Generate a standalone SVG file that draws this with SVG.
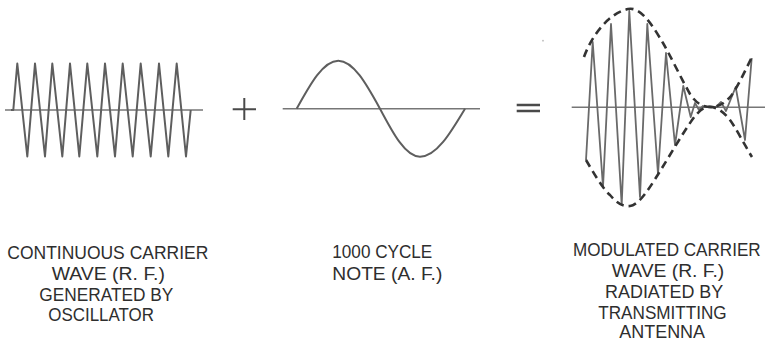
<svg xmlns="http://www.w3.org/2000/svg" width="771" height="342" viewBox="0 0 771 342">
<style>
.axis{fill:none;stroke:#767676;stroke-width:1.6}
.wave{fill:none;stroke:#5e5e5e;stroke-width:2;stroke-linejoin:round}
.mwave{fill:none;stroke:#6a6a6a;stroke-width:1.8;stroke-linejoin:round}
.sym{fill:none;stroke:#4a4a4a;stroke-width:2}
.env{fill:none;stroke:#333;stroke-width:2.6;stroke-dasharray:8 5}
.lbl{font-family:"Liberation Sans",Arial,sans-serif;font-size:18.5px;fill:#2e2e2e}
</style>
<rect width="771" height="342" fill="#fff"/>
<g id="carrier">
<path class="axis" d="M5,110 H203"/>
<path class="wave" d="M11,110 L13.3,110 L17.3,63.5 L27.3,156.5 L35,63.5 L45,156.5 L52.3,63.5 L62.3,156.5 L70,63.5 L79.3,156.5 L87.3,63.5 L97.3,156.5 L105,63.5 L115,156.5 L122.7,63.5 L132.7,156.5 L140.7,63.5 L150.7,156.5 L159,63.5 L168.3,156.5 L176.7,63.5 L186,156.5 L190.7,110"/>
</g>
<g id="plus">
<path class="sym" d="M232.7,109.3 H256 M244.3,98 V120"/>
</g>
<g id="note">
<path class="axis" d="M282.7,108.7 H480"/>
<path class="wave" d="M296.7,108.7 C310.3,84.1 323.2,60.7 338.3,60.7 C353.4,60.7 366.4,84.1 380,108.7 C393,133.3 405.5,156.7 420,156.7 C436.3,156.7 450.3,133.3 465,108.7"/>
</g>
<g id="equals">
<path class="sym" style="stroke-width:2.4" d="M516.7,105 H540 M516.7,111 H540"/>
</g>
<circle cx="543" cy="40.7" r="0.9" fill="#bbb"/>
<g id="modulated">
<path class="axis" d="M571.7,107.3 H765"/>
<path class="mwave" d="M586,160 L592.7,42 L603,187 L611,24 L621.7,205 L629.3,11 L640,197 L647.3,24 L658,174 L666,53 L675,145 L683.3,86 L690.7,117 L695,103 L699,110 L703,106 L707,107 L716,107 L721,102 L726,111 L735.7,87 L745,140 L751.7,58"/>
<path class="env" d="M584,57 C590,40 606,14 628,9 C642,6 655,30 663,43 C670,55 682,80 690,94 C696,103 702,107 711,107 C719,107 726,102 731,96 C737,88 745,71 752,57"/>
<path class="env" d="M586,160 C592,170 602,188 610,195 C616,202 622,207 630,206 C640,205 652,184 662,168 C670,155 680,138 688,126 C694,117 700,108 708,107 C716,106 724,112 730,120 C736,128 744,144 752,157"/>
</g>
<g id="labels">
<text class="lbl" x="7.3" y="259" textLength="201" lengthAdjust="spacingAndGlyphs">CONTINUOUS CARRIER</text>
<text class="lbl" x="51.7" y="280" textLength="113.3" lengthAdjust="spacingAndGlyphs">WAVE (R. F.)</text>
<text class="lbl" x="39.3" y="300.5" textLength="134" lengthAdjust="spacingAndGlyphs">GENERATED BY</text>
<text class="lbl" x="48.3" y="321" textLength="105.7" lengthAdjust="spacingAndGlyphs">OSCILLATOR</text>
<text class="lbl" x="332.3" y="258" textLength="100" lengthAdjust="spacingAndGlyphs">1000 CYCLE</text>
<text class="lbl" x="332.3" y="280" textLength="110" lengthAdjust="spacingAndGlyphs">NOTE (A. F.)</text>
<text class="lbl" transform="translate(573,256) scale(0.925,1)" x="0" y="0">MODULATED CARRIER</text>
<text class="lbl" x="611.7" y="276.7" textLength="112.6" lengthAdjust="spacingAndGlyphs">WAVE (R. F.)</text>
<text class="lbl" x="605" y="297.7" textLength="118.3" lengthAdjust="spacingAndGlyphs">RADIATED BY</text>
<text class="lbl" x="598.3" y="318.5" textLength="128.4" lengthAdjust="spacingAndGlyphs">TRANSMITTING</text>
<text class="lbl" x="619.3" y="337.5" textLength="85.7" lengthAdjust="spacingAndGlyphs">ANTENNA</text>
</g>
</svg>
